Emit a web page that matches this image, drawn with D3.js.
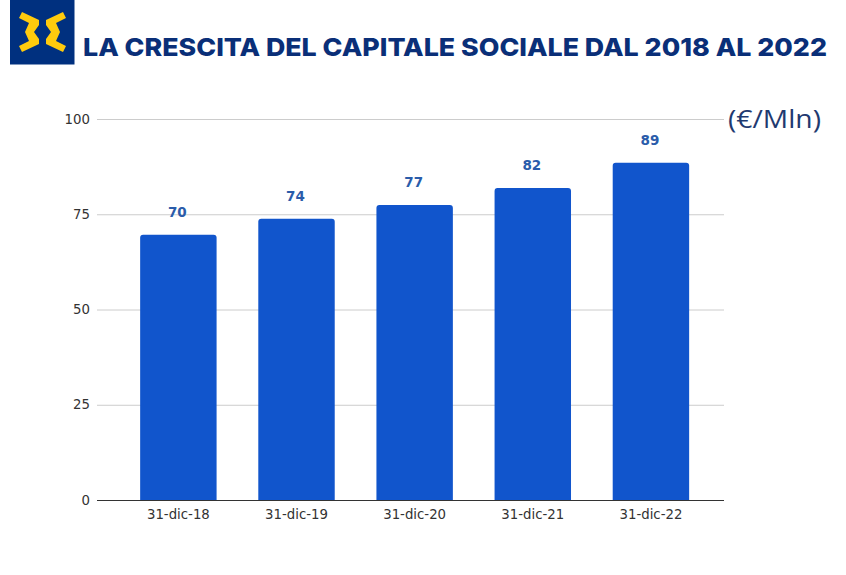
<!DOCTYPE html>
<html>
<head>
    <meta charset="utf-8">
    <script src="https://d3js.org/d3.v7.min.js"></script>
    <style>
        body { margin: 0; background: #fff; }
        text { font-family: "DejaVu Sans", sans-serif; }
    </style>
    <title>La crescita del capitale sociale</title>
</head>
<body>
    <script type="text/javascript">
        var categories = ["31-dic-18", "31-dic-19", "31-dic-20", "31-dic-21", "31-dic-22"];
        var values = [69.6, 73.8, 77.4, 81.9, 88.5];
        var yTicks = [0, 25, 50, 75, 100];

        var svg = d3.select("body").append("svg")
            .attr("width", 846)
            .attr("height", 575);

        // logo
        var logo = svg.append("g");
        logo.append("rect").attr("x", 10).attr("y", 0).attr("width", 64.5).attr("height", 64.5).attr("fill", "#00307f");
        logo.selectAll("path")
            .data(["M19,18 L22,12 L39,20 L39,25 L34,32 L39,39 L39,44 L22,52 L19,46 L29,41 L25,32 L29,23 Z",
                   "M66,18 L63,12 L46,20 L46,25 L51,32 L46,39 L46,44 L63,52 L66,46 L56,41 L60,32 L56,23 Z"])
            .enter().append("path")
            .attr("d", function(d) { return d; })
            .attr("fill", "#ffcb0d");

        svg.append("text")
            .attr("x", 83)
            .attr("y", 56)
            .attr("textLength", 744)
            .attr("lengthAdjust", "spacingAndGlyphs")
            .style("font-family", "Inter, sans-serif")
            .style("font-weight", 800)
            .style("font-size", "25px")
            .attr("fill", "#0a2f78")
            .text("LA CRESCITA DEL CAPITALE SOCIALE DAL 2018 AL 2022");

        var x = d3.scaleBand()
            .domain(categories)
            .range([119.3, 710])
            .paddingInner(0.353)
            .paddingOuter(0.1765);
        var y = d3.scaleLinear().domain([0, 100]).range([500, 119]);

        // grid
        svg.selectAll("line.grid")
            .data(yTicks.slice(1))
            .enter().append("line")
            .attr("class", "grid")
            .attr("x1", 97)
            .attr("x2", 724)
            .attr("y1", function(d) { return y(d) + 0.5; })
            .attr("y2", function(d) { return y(d) + 0.5; })
            .attr("stroke", "#cccccc");

        svg.selectAll("text.ytick")
            .data(yTicks)
            .enter().append("text")
            .attr("class", "ytick")
            .attr("x", 90)
            .attr("y", function(d) { return y(d) + 4.5; })
            .attr("text-anchor", "end")
            .style("font-size", "13.3px")
            .attr("fill", "#333333")
            .text(function(d) { return d; });

        // bars, rounded on top only
        var r = 3;
        svg.selectAll("path.bar")
            .data(values)
            .enter().append("path")
            .attr("class", "bar")
            .attr("fill", "#1155cc")
            .attr("d", function(d, i) {
                var x0 = x(categories[i]), x1 = x0 + x.bandwidth(), top = y(d), base = y(0);
                return "M" + x0 + "," + base + "V" + (top + r) + "Q" + x0 + "," + top + " " + (x0 + r) + "," + top +
                    "H" + (x1 - r) + "Q" + x1 + "," + top + " " + x1 + "," + (top + r) + "V" + base + "Z";
            });

        svg.selectAll("text.value")
            .data(values)
            .enter().append("text")
            .attr("class", "value")
            .attr("x", function(d, i) { return x(categories[i]) + x.bandwidth() / 2 - 1; })
            .attr("y", function(d) { return y(d) - 18; })
            .attr("text-anchor", "middle")
            .style("font-size", "13.5px")
            .style("font-weight", 700)
            .attr("fill", "#2a5caa")
            .text(function(d) { return Math.round(d); });

        // baseline
        svg.append("line")
            .attr("x1", 97).attr("x2", 724)
            .attr("y1", 500.5).attr("y2", 500.5)
            .attr("stroke", "#333333");

        svg.selectAll("text.xtick")
            .data(categories)
            .enter().append("text")
            .attr("class", "xtick")
            .attr("x", function(d) { return x(d) + x.bandwidth() / 2; })
            .attr("y", 519)
            .attr("text-anchor", "middle")
            .style("font-size", "13.3px")
            .attr("fill", "#333333")
            .text(function(d) { return d; });

        svg.append("text")
            .attr("x", 728)
            .attr("y", 128)
            .attr("textLength", 93)
            .attr("lengthAdjust", "spacingAndGlyphs")
            .style("font-family", "'Open Sans', sans-serif")
            .style("font-weight", 400)
            .style("font-size", "26px")
            .attr("fill", "#1f3a70")
            .text("(€/Mln)");
    </script>
</body>
</html>
